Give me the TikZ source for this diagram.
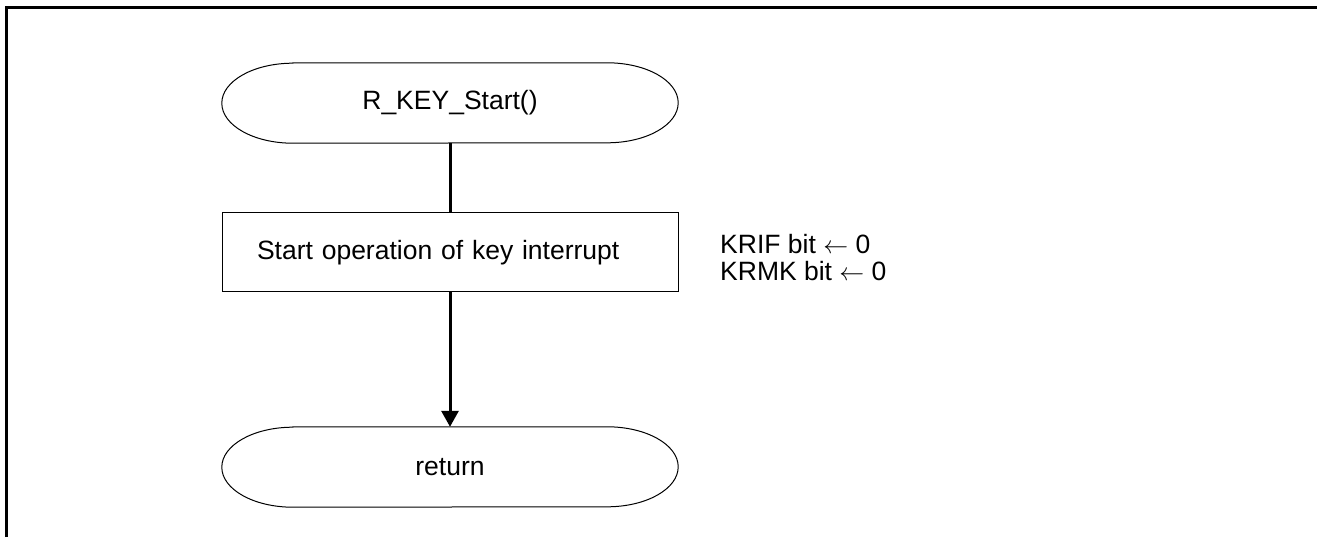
\documentclass[tikz,border=0pt]{standalone}
\usepackage{fontspec}
\setmainfont{Liberation Sans}
\usetikzlibrary{arrows.meta}
\tikzset{
  lbl/.style={font=\fontsize{26.5}{27}\selectfont, inner sep=0pt},
  termbox/.style={lbl, minimum width=456pt, minimum height=80pt, inner sep=0pt},
  procbox/.style={lbl, draw, line width=1pt, minimum width=456pt, minimum height=79pt,
    text width=386pt, inner xsep=35pt, inner ysep=0pt, align=left},
  flow/.style={line width=3pt},
  flowarrow/.style={line width=3pt, -{Triangle[length=16pt,width=17pt]}},
  frame/.style={line width=3pt, line join=miter}
}
\newcommand{\stadiumoutline}[1]{%
  \draw[line width=1pt] ([xshift=71pt]#1.north west) -- ([xshift=-71pt]#1.north east)
    arc[start angle=90, end angle=-90, x radius=71pt, y radius=40pt]
    -- ([xshift=71pt]#1.south west)
    arc[start angle=270, end angle=90, x radius=71pt, y radius=40pt] -- cycle;}
\begin{document}
\begin{tikzpicture}[x=1pt, y=-1pt]
\useasboundingbox (0,0) rectangle (1317,545);
\fill[white] (0,0) rectangle (1317,545);
\draw[frame] (6,537) -- (6,8) -- (1317,8);

\node[termbox] (start) at (450,103) {R\_KEY\_Start()};
\stadiumoutline{start}
\node[procbox] (proc) at (450,252.5) {Start operation of key interrupt};
\node[termbox] (ret) at (450,467) {return};
\stadiumoutline{ret}

\node[lbl, anchor=base west, align=left] (note) at (720,281)
  {KRIF bit $\leftarrow$ 0\\[0pt]KRMK bit $\leftarrow$ 0};

\draw[flow] (start) -- (proc);
\draw[flowarrow] (proc) -- (ret);
\end{tikzpicture}
\end{document}
